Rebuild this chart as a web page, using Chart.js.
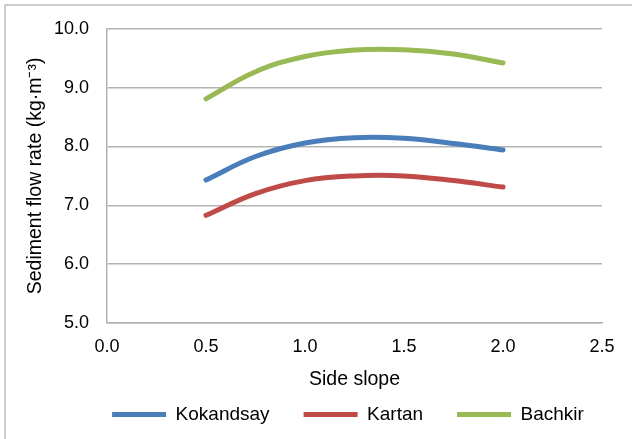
<!DOCTYPE html>
<html>
<head>
<meta charset="utf-8">
<script src="https://cdn.jsdelivr.net/npm/chart.js@4"></script>
<style>
  html, body { margin: 0; padding: 0; background: #fff; }
  #wrap { position: relative; width: 632px; height: 439px; }
</style>
</head>
<body>
<div id="wrap"><canvas id="chart1"></canvas></div>
<script>
// side slope values (x) and sediment flow rate per site
const slopes = [0.5, 0.75, 1.0, 1.25, 1.5, 1.75, 2.0];
const kokandsay = [7.43, 7.83, 8.06, 8.15, 8.14, 8.05, 7.94];
const kartan = [6.83, 7.20, 7.42, 7.50, 7.50, 7.42, 7.31];
const bachkir = [8.81, 9.27, 9.53, 9.64, 9.645, 9.57, 9.42];
const seriesNames = ['Kokandsay', 'Kartan', 'Bachkir'];
const xTicks = [0, 0.5, 1.0, 1.5, 2.0, 2.5];
const yTicks = [5, 6, 7, 8, 9, 10];

const toPoints = vals => vals.map((v, i) => ({ x: slopes[i], y: v }));

// outer frame like the office chart border
const framePlugin = {
    id: 'frame',
    beforeDraw(chart) {
        const ctx = chart.ctx;
        ctx.save();
        ctx.strokeStyle = '#bfbfbf';
        ctx.lineWidth = 1.5;
        ctx.strokeRect(5, 5, 700, 500);
        ctx.restore();
    }
};

// legend in the original sits a bit right of the canvas centre
const legendShift = {
    id: 'legendShift',
    afterLayout(chart) {
        chart.legend.left += 47;
        chart.legend.right += 47;
    }
};

document.addEventListener('DOMContentLoaded', () => {
    const ctx1 = document.getElementById('chart1').getContext('2d');
    const family = '"Liberation Sans", Arial, sans-serif';
    const tickFont = { family: family, size: 18 };
    const bigFont = { family: family, size: 19.5 };
    const legendFont = { family: family, size: 19 };

    const mkSet = (label, vals, color) => ({
        label: label,
        data: toPoints(vals),
        borderColor: color,
        backgroundColor: color,
        borderWidth: 5,
        borderCapStyle: 'round',
        pointRadius: 0,
        pointStyle: 'line',
        tension: 0.4,
        fill: false
    });

    new Chart(ctx1, {
        type: 'line',
        data: {
            datasets: [
                mkSet(seriesNames[0], kokandsay, '#4A7EBB'),
                mkSet(seriesNames[1], kartan, '#BE4B48'),
                mkSet(seriesNames[2], bachkir, '#98B954')
            ]
        },
        options: {
            responsive: true,
            maintainAspectRatio: false,
            animation: false,
            layout: {
                padding: { left: 0, top: 28, right: 30, bottom: 5 }
            },
            scales: {
                x: {
                    type: 'linear',
                    min: 0,
                    max: 2.5,
                    afterBuildTicks: s => { s.ticks = xTicks.map(v => ({ value: v })); },
                    afterFit: s => { s.height = 48; },
                    ticks: {
                        font: tickFont,
                        color: '#000',
                        padding: 13,
                        callback: v => Number(v).toFixed(1)
                    },
                    grid: { display: false, drawTicks: false },
                    border: { display: true, color: '#b3b3b3', width: 1.5 },
                    title: {
                        display: true,
                        text: 'Side slope',
                        font: bigFont,
                        color: '#000',
                        padding: { top: 0, bottom: -20 }
                    }
                },
                y: {
                    min: 5,
                    max: 10,
                    afterBuildTicks: s => { s.ticks = yTicks.map(v => ({ value: v })); },
                    afterFit: s => { s.width = 107; },
                    ticks: {
                        font: tickFont,
                        color: '#000',
                        padding: 18,
                        callback: v => Number(v).toFixed(1)
                    },
                    grid: { color: '#b3b3b3', lineWidth: 1.5, drawTicks: false },
                    border: { display: true, color: '#b3b3b3', width: 1.5 },
                    title: {
                        display: true,
                        text: 'Sediment flow rate (kg·m⁻³)',
                        font: bigFont,
                        color: '#000',
                        padding: { top: 24, bottom: 0 }
                    }
                }
            },
            plugins: {
                legend: {
                    position: 'bottom',
                    labels: {
                        usePointStyle: true,
                        pointStyleWidth: 54,
                        font: legendFont,
                        color: '#000',
                        padding: 34
                    }
                },
                tooltip: { enabled: false }
            }
        },
        plugins: [framePlugin, legendShift]
    });
});
</script>
</body>
</html>
